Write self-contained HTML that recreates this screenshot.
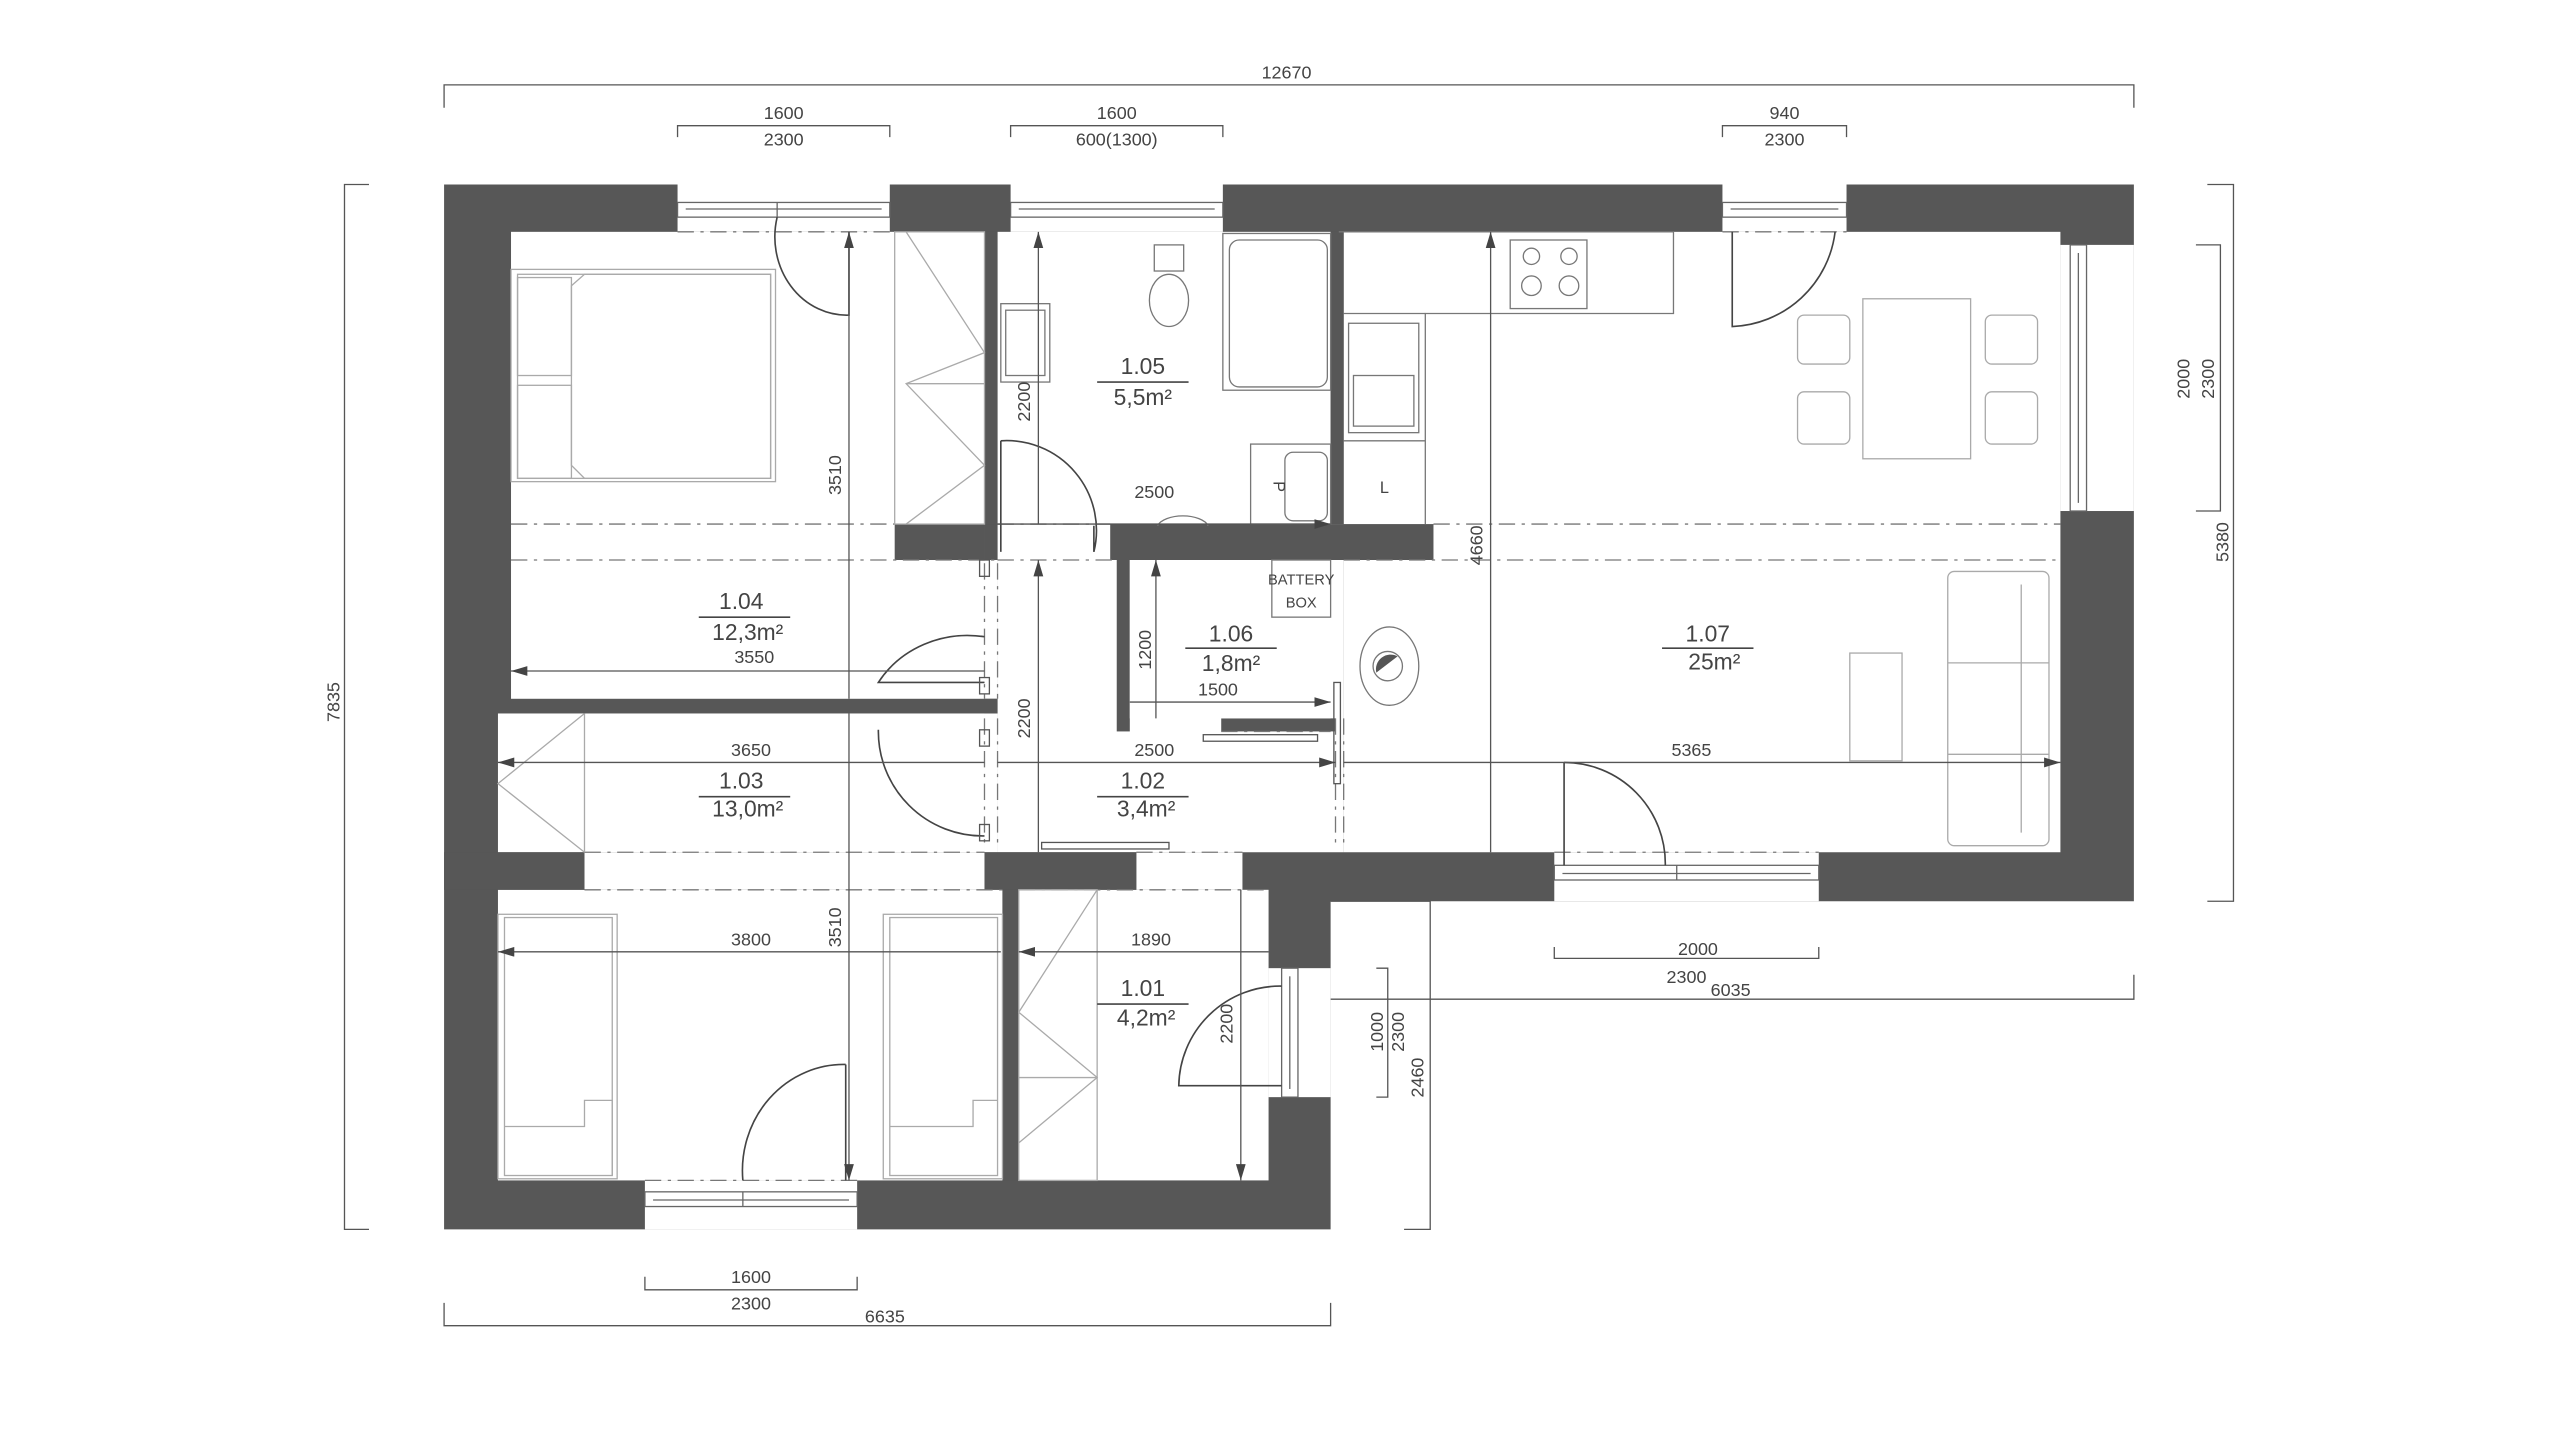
<!DOCTYPE html>
<html><head><meta charset="utf-8"><style>
html,body{margin:0;padding:0;background:#fff;width:2560px;height:1440px;overflow:hidden}
svg{display:block}
text{font-family:"Liberation Sans Narrow","Liberation Sans",sans-serif;fill:#444}
</style></head><body>
<svg width="2560" height="1440" viewBox="0 0 1568 882" xmlns="http://www.w3.org/2000/svg">
<defs>
<marker id="ar" viewBox="0 0 10 6" refX="10" refY="3" markerWidth="10" markerHeight="6" orient="auto-start-reverse" markerUnits="userSpaceOnUse"><path d="M0,0 L10,3 L0,6 Z" fill="#444"/></marker>
</defs>
<rect width="1568" height="882" fill="#fff"/>

<!-- footprint walls -->
<polygon points="272,113 1307,113 1307,552 815,552 815,753 272,753" fill="#575757"/>
<!-- rooms white -->
<g fill="#fff">
<rect x="313" y="142" width="290" height="286"/>
<rect x="611" y="142" width="204" height="179"/>
<rect x="823" y="142" width="439" height="380"/>
<rect x="611" y="321" width="212" height="201"/>
<rect x="305" y="437" width="298" height="85"/>
<rect x="358" y="522" width="245" height="23"/>
<rect x="603" y="343" width="8" height="85"/>
<rect x="603" y="437" width="8" height="85"/>
<rect x="696" y="522" width="65" height="23"/>
<rect x="305" y="545" width="309" height="178"/>
<rect x="624" y="545" width="153" height="178"/>
<!-- windows openings -->
<rect x="415" y="113" width="130" height="29"/>
<rect x="619" y="113" width="130" height="29"/>
<rect x="1055" y="113" width="76" height="29"/>
<rect x="1262" y="150" width="45" height="163"/>
<rect x="952" y="522" width="162" height="30"/>
<rect x="395" y="723" width="130" height="30"/>
<rect x="777" y="593" width="38" height="79"/>
<rect x="823" y="321" width="0" height="0"/>
</g>
<!-- wall stubs -->
<g fill="#575757">
<rect x="548" y="321" width="55" height="22"/>
<rect x="603" y="321" width="8" height="22"/>
<rect x="680" y="321" width="198" height="22"/>
<rect x="684" y="343" width="8" height="105"/>
<rect x="748" y="440" width="70" height="8"/>
<rect x="603" y="428" width="8" height="9"/>
<rect x="815" y="142" width="8" height="179"/>
<rect x="603" y="142" width="8" height="179"/>
<rect x="603" y="522" width="93" height="23"/>
<rect x="614" y="545" width="10" height="178"/>
<rect x="272" y="522" width="86" height="23"/>
</g>
<!-- 1.06 interior -->
<rect x="692" y="343" width="123" height="97" fill="#fff"/>

<!-- windows detail -->
<g fill="none" stroke="#666" stroke-width="0.8">
<rect x="415" y="124" width="130" height="9"/><line x1="420" y1="128" x2="540" y2="128"/><line x1="476" y1="124" x2="476" y2="133"/>
<rect x="619" y="124" width="130" height="9"/><line x1="624" y1="128" x2="744" y2="128"/>
<rect x="1055" y="124" width="76" height="9"/><line x1="1060" y1="128" x2="1126" y2="128"/>
<rect x="1268" y="150" width="10" height="163"/><line x1="1273" y1="155" x2="1273" y2="308"/>
<rect x="952" y="530" width="162" height="9"/><line x1="957" y1="535" x2="1109" y2="535"/><line x1="1027" y1="530" x2="1027" y2="539"/>
<rect x="395" y="730" width="130" height="9"/><line x1="400" y1="735" x2="520" y2="735"/><line x1="455" y1="730" x2="455" y2="739"/>
<rect x="785" y="593" width="10" height="79"/><line x1="790" y1="598" x2="790" y2="667"/>
</g>

<!-- dashed beam lines -->
<g stroke="#777" stroke-width="0.8" stroke-dasharray="10,4,2,4" fill="none">
<line x1="313" y1="321" x2="548" y2="321"/><line x1="313" y1="343" x2="611" y2="343"/>
<line x1="611" y1="321" x2="680" y2="321"/><line x1="611" y1="343" x2="684" y2="343"/>
<line x1="878" y1="321" x2="1262" y2="321"/><line x1="823" y1="343" x2="1262" y2="343"/>
<line x1="358" y1="522" x2="603" y2="522"/><line x1="358" y1="545" x2="614" y2="545"/>
<line x1="696" y1="522" x2="761" y2="522"/><line x1="624" y1="545" x2="777" y2="545"/>
<line x1="415" y1="142" x2="545" y2="142"/><line x1="1055" y1="142" x2="1131" y2="142"/>
<line x1="952" y1="522" x2="1114" y2="522"/><line x1="395" y1="723" x2="525" y2="723"/>
<line x1="603" y1="345" x2="603" y2="428"/><line x1="611" y1="345" x2="611" y2="428"/>
<line x1="603" y1="440" x2="603" y2="520"/><line x1="611" y1="440" x2="611" y2="520"/>
<line x1="818" y1="440" x2="818" y2="520"/><line x1="823" y1="440" x2="823" y2="520"/>
<line x1="748" y1="448" x2="815" y2="448"/>
</g>

<!-- doors -->
<g fill="none" stroke="#444" stroke-width="1">
<path d="M476,133 A44,48 0 0 0 520,193 L520,142"/>
<path d="M603,390 A64,60 0 0 0 538,418 L603,418"/>
<path d="M538,447 A64,64 0 0 0 603,512"/>
<path d="M613,270 A55,55 0 0 1 670,338 L670,322"/><line x1="613" y1="270" x2="613" y2="338"/>
<path d="M518,652 A62,65 0 0 0 455,723"/><line x1="518" y1="652" x2="518" y2="723"/>
<path d="M1124,142 A66,66 0 0 1 1061,200 L1061,142"/>
<path d="M958,467 A62,62 0 0 1 1020,530"/><line x1="958" y1="467" x2="958" y2="530"/>
<path d="M785,604 A62,62 0 0 0 722,665 L785,665"/>
</g>
<g fill="none" stroke="#555" stroke-width="0.8">
<rect x="600" y="343" width="6" height="10"/><rect x="600" y="415" width="6" height="10"/>
<rect x="600" y="447" width="6" height="10"/><rect x="600" y="505" width="6" height="10"/>
<rect x="737" y="450" width="70" height="4"/><rect x="638" y="516" width="78" height="4"/>
<rect x="817" y="418" width="4" height="62"/>
</g>

<!-- furniture -->
<g fill="none" stroke="#aaa" stroke-width="0.8">
<rect x="313" y="165" width="162" height="130"/><rect x="317" y="168" width="155" height="125"/>
<rect x="317" y="170" width="33" height="60"/><rect x="317" y="236" width="33" height="57"/>
<path d="M350,175 L358,168 L472,168 L472,293 L358,293 L350,285 Z"/>
<rect x="548" y="142" width="55" height="179"/>
<path d="M555,142 L603,216 L555,235 L603,285 L555,321"/><line x1="555" y1="235" x2="603" y2="235"/>
<path d="M358,437 L305,480 L358,522"/><line x1="358" y1="437" x2="358" y2="522"/>
<rect x="305" y="560" width="73" height="162"/><rect x="309" y="562" width="66" height="158"/>
<path d="M309,690 L358,690 L358,674 L375,674 L375,720"/>
<rect x="541" y="560" width="73" height="162"/><rect x="545" y="562" width="66" height="158"/>
<path d="M545,690 L596,690 L596,674 L611,674"/>
<rect x="624" y="545" width="48" height="178"/>
<path d="M672,545 L624,620 L672,660 L624,700"/><line x1="624" y1="660" x2="672" y2="660"/>
<rect x="1141" y="183" width="66" height="98"/>
<rect x="1101" y="193" width="32" height="30" rx="4"/><rect x="1101" y="240" width="32" height="32" rx="4"/>
<rect x="1216" y="193" width="32" height="30" rx="4"/><rect x="1216" y="240" width="32" height="32" rx="4"/>
<rect x="1193" y="350" width="62" height="168" rx="4"/><line x1="1238" y1="358" x2="1238" y2="510"/>
<line x1="1193" y1="406" x2="1255" y2="406"/><line x1="1193" y1="462" x2="1255" y2="462"/>
<rect x="1133" y="400" width="32" height="66"/>
</g>
<g fill="none" stroke="#777" stroke-width="0.8">
<rect x="753" y="147" width="60" height="90" rx="6"/><rect x="749" y="143" width="66" height="96"/>
<ellipse cx="716" cy="184" rx="12" ry="16"/><rect x="707" y="150" width="18" height="16"/>
<rect x="613" y="186" width="30" height="48"/><rect x="616" y="190" width="24" height="40"/>
<rect x="766" y="272" width="49" height="49"/><rect x="787" y="277" width="26" height="42" rx="5"/>
<path d="M820,142 L1025,142 L1025,192 L873,192 L873,321"/><line x1="823" y1="192" x2="873" y2="192"/>
<rect x="925" y="147" width="47" height="42"/>
<circle cx="938" cy="157" r="5"/><circle cx="961" cy="157" r="5"/><circle cx="938" cy="175" r="6"/><circle cx="961" cy="175" r="6"/>
<rect x="826" y="198" width="43" height="67"/><rect x="829" y="230" width="37" height="31"/>
<line x1="823" y1="270" x2="873" y2="270"/>
<rect x="779" y="343" width="36" height="35"/>
<ellipse cx="851" cy="408" rx="18" ry="24"/><circle cx="850" cy="408" r="9"/>
<path d="M709,322 A16,8 0 0 1 740,322"/>
</g>
<path d="M843,412 L856,402 A9,9 0 0 0 843,412 Z" fill="#555"/>

<!-- dimension lines -->
<g stroke="#555" stroke-width="0.8" fill="none">
<path d="M272,66 L272,52 L1307,52 L1307,66"/>
<path d="M415,84 L415,77 L545,77 L545,84"/><path d="M619,84 L619,77 L749,77 L749,84"/><path d="M1055,84 L1055,77 L1131,77 L1131,84"/>
<path d="M226,113 L211,113 L211,753 L226,753"/>
<path d="M1345,150 L1360,150 L1360,313 L1345,313"/><path d="M1352,113 L1368,113 L1368,552 L1352,552"/>
<path d="M952,580 L952,587 L1114,587 L1114,580"/><path d="M815,612 L1307,612 L1307,597"/>
<path d="M843,593 L850,593 L850,672 L843,672"/><path d="M815,552 L876,552 L876,753 L860,753"/>
<path d="M395,782 L395,790 L525,790 L525,782"/><path d="M272,798 L272,812 L815,812 L815,798"/>
<g marker-end="url(#ar)">
<line x1="520" y1="428" x2="520" y2="142"/><line x1="636" y1="321" x2="636" y2="142"/><line x1="603" y1="411" x2="313" y2="411"/>
<line x1="611" y1="321" x2="815" y2="321"/><line x1="708" y1="440" x2="708" y2="343"/><line x1="692" y1="430" x2="815" y2="430"/>
<line x1="603" y1="467" x2="305" y2="467"/><line x1="611" y1="467" x2="818" y2="467"/><line x1="823" y1="467" x2="1262" y2="467"/>
<line x1="913" y1="522" x2="913" y2="142"/><line x1="636" y1="522" x2="636" y2="343"/><line x1="520" y1="437" x2="520" y2="723"/>
<line x1="613" y1="583" x2="305" y2="583"/><line x1="777" y1="583" x2="624" y2="583"/><line x1="760" y1="545" x2="760" y2="723"/>
</g>
</g>

<!-- labels -->
<g font-size="11" text-anchor="middle">
<text x="788" y="48">12670</text>
<text x="480" y="73">1600</text><text x="480" y="89">2300</text>
<text x="684" y="73">1600</text><text x="684" y="89">600(1300)</text>
<text x="1093" y="73">940</text><text x="1093" y="89">2300</text>
<text x="1040" y="585">2000</text><text x="1033" y="602">2300</text><text x="1060" y="610">6035</text>
<text x="460" y="786">1600</text><text x="460" y="802">2300</text><text x="542" y="810">6635</text>
<text x="462" y="406">3550</text><text x="460" y="463">3650</text><text x="707" y="463">2500</text>
<text x="707" y="305">2500</text><text x="746" y="426">1500</text><text x="1036" y="463">5365</text>
<text x="460" y="579">3800</text><text x="705" y="579">1890</text>
<text transform="translate(208,430) rotate(-90)">7835</text>
<text transform="translate(1341,232) rotate(-90)">2000</text><text transform="translate(1356,232) rotate(-90)">2300</text>
<text transform="translate(1365,332) rotate(-90)">5380</text>
<text transform="translate(847,632) rotate(-90)">1000</text><text transform="translate(860,632) rotate(-90)">2300</text><text transform="translate(872,660) rotate(-90)">2460</text>
<text transform="translate(515,291) rotate(-90)">3510</text><text transform="translate(515,568) rotate(-90)">3510</text>
<text transform="translate(631,246) rotate(-90)">2200</text><text transform="translate(631,440) rotate(-90)">2200</text>
<text transform="translate(705,398) rotate(-90)">1200</text><text transform="translate(755,627) rotate(-90)">2200</text>
<text transform="translate(908,334) rotate(-90)">4660</text>
<text x="797" y="358" font-size="9">BATTERY</text><text x="797" y="372" font-size="9">BOX</text>
<text x="780" y="298" font-size="10" transform="rotate(90,780,298)">P</text>
<text x="848" y="302" font-size="10">L</text>
</g>
<g font-size="14" text-anchor="middle">
<text x="454" y="373">1.04</text><text x="458" y="392">12,3m²</text>
<text x="700" y="229">1.05</text><text x="700" y="248">5,5m²</text>
<text x="754" y="393">1.06</text><text x="754" y="411">1,8m²</text>
<text x="1046" y="393">1.07</text><text x="1050" y="410">25m²</text>
<text x="454" y="483">1.03</text><text x="458" y="500">13,0m²</text>
<text x="700" y="483">1.02</text><text x="702" y="500">3,4m²</text>
<text x="700" y="610">1.01</text><text x="702" y="628">4,2m²</text>
</g>
<g stroke="#444" stroke-width="1">
<line x1="428" y1="378" x2="484" y2="378"/><line x1="672" y1="234" x2="728" y2="234"/>
<line x1="726" y1="397" x2="782" y2="397"/><line x1="1018" y1="397" x2="1074" y2="397"/>
<line x1="428" y1="488" x2="484" y2="488"/><line x1="672" y1="488" x2="728" y2="488"/><line x1="672" y1="615" x2="728" y2="615"/>
</g>
</svg>
</body></html>
